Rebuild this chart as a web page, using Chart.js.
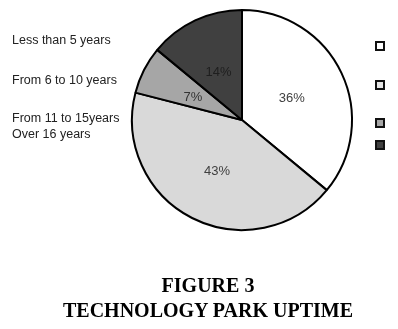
<!DOCTYPE html>
<html>
<head>
<meta charset="utf-8">
<script src="https://cdn.jsdelivr.net/npm/chart.js@4.4.1/dist/chart.umd.min.js"></script>
<style>
  html, body { margin: 0; padding: 0; background: #fff; }
  #wrap { position: relative; width: 398px; height: 329px; overflow: hidden; }
  #c { position: absolute; left: 0; top: 0; }
  .lt { position: absolute; left: 12px; font-family: "Liberation Sans", Arial, sans-serif; font-size: 12.5px; color: #222; line-height: 14px; white-space: nowrap; }
  .box { position: absolute; left: 375px; width: 6px; height: 6px; border: 2px solid #111; }
  .title { position: absolute; left: 0; width: 416px; text-align: center; font-family: "Liberation Serif", "Times New Roman", serif; font-weight: bold; font-size: 20px; color: #000; line-height: 22px; }
</style>
</head>
<body>
<div id="wrap">
  <canvas id="c" width="398" height="329"></canvas>
  <div id="legend"></div>
  <div class="title" style="top:274px">FIGURE 3</div>
  <div class="title" style="top:299px">TECHNOLOGY PARK UPTIME</div>
</div>
<script>
const categories = ["Less than 5 years", "From 6 to 10 years", "From 11 to 15years", "Over 16 years"];
const values = [36, 43, 7, 14];
const sliceColors = ["#ffffff", "#d9d9d9", "#a6a6a6", "#404040"];
const labelColors = ["#404040", "#404040", "#333333", "#1e1e1e"];

// legend (left texts, right boxes as in the figure)
const legendTextY = [33, 73, 111, 127];
const legendBoxY = [41, 80, 118, 140];
const legendBoxFill = ["#ffffff", "#e6e6e6", "#a6a6a6", "#404040"];
const lg = document.getElementById('legend');
categories.forEach((c, i) => {
  const t = document.createElement('div');
  t.className = 'lt'; t.style.top = legendTextY[i] + 'px'; t.textContent = c;
  lg.appendChild(t);
  const b = document.createElement('div');
  b.className = 'box'; b.style.top = legendBoxY[i] + 'px'; b.style.background = legendBoxFill[i];
  lg.appendChild(b);
});

const pctLabels = {
  id: 'pctLabels',
  afterDatasetsDraw(chart) {
    const ctx = chart.ctx;
    const meta = chart.getDatasetMeta(0);
    ctx.save();
    ctx.font = '13px "Liberation Sans", Arial, sans-serif';
    ctx.textAlign = 'center';
    ctx.textBaseline = 'middle';
    meta.data.forEach((arc, i) => {
      const p = arc.tooltipPosition();
      ctx.fillStyle = labelColors[i];
      ctx.fillText(values[i] + '%', p.x, p.y + 2);
    });
    ctx.restore();
  }
};

new Chart(document.getElementById('c'), {
  type: 'pie',
  data: {
    labels: categories,
    datasets: [{
      data: values,
      backgroundColor: sliceColors,
      borderColor: '#000000',
      borderWidth: 2,
      borderAlign: 'center'
    }]
  },
  options: {
    responsive: false,
    animation: false,
    layout: { padding: { left: 131, right: 45, top: 9, bottom: 98 } },
    plugins: { legend: { display: false }, tooltip: { enabled: false } }
  },
  plugins: [pctLabels]
});
</script>
</body>
</html>
